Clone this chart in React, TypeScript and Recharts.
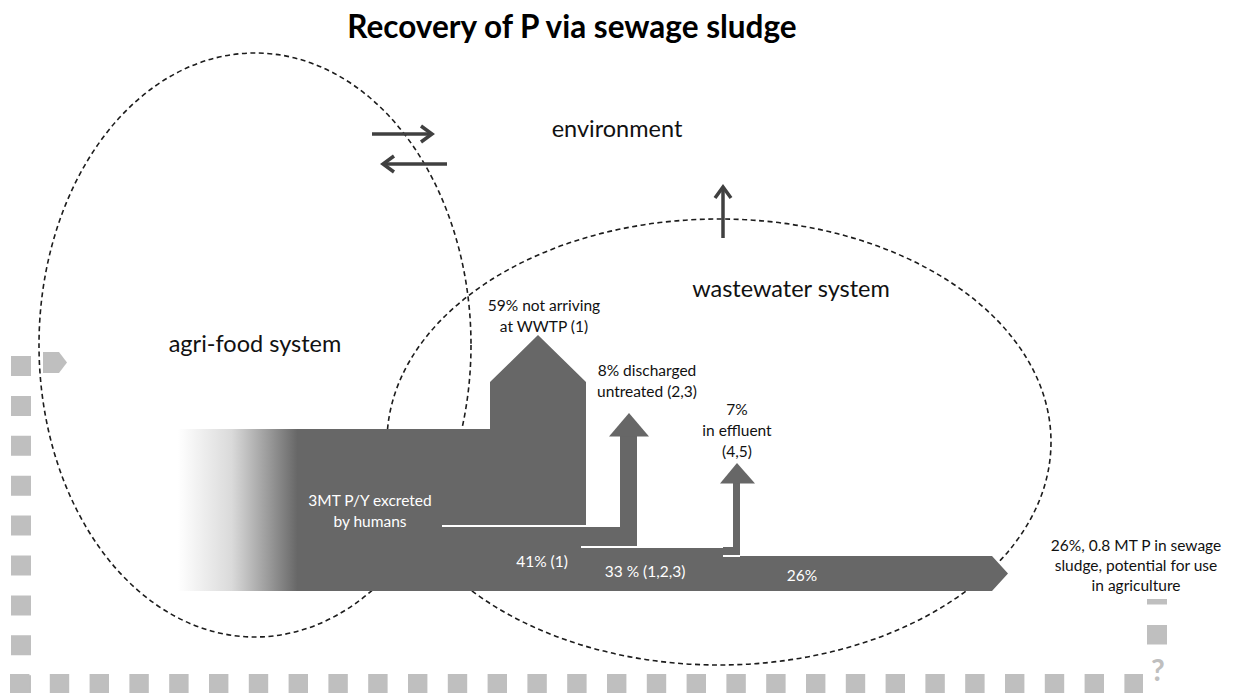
import React from "react";
import { ComposedChart, XAxis, YAxis, Area, Line, ReferenceLine, ReferenceDot } from "recharts";

// ---- labels and values ----
const chartTitle = "Recovery of P via sewage sludge";
const systemNames = ["agri-food system", "wastewater system", "environment"];
const sourceLabel = ["3MT P/Y excreted", "by humans"];
const outflowLabels = [
  ["59% not arriving", "at WWTP (1)"],
  ["8% discharged", "untreated (2,3)"],
  ["7%", "in effluent", "(4,5)"],
];
const bandLabels = ["41% (1)", "33 % (1,2,3)", "26%"];
const sinkLabel = ["26%, 0.8 MT P in sewage", "sludge, potential for use", "in agriculture"];

// ---- layout (page coordinates: x to the right, y downwards) ----
const W = 1234;
const H = 693;
const FONT = "Lato, 'Open Sans', sans-serif";
const GREY = "#676767";
const LIGHT = "#bfbfbf";
const INK = "#404040";

const systemPos = [
  { x: 255, y: 352 },
  { x: 791, y: 297 },
  { x: 617, y: 137 },
];
const outflowPos = [
  { x: 544, y: 311 },
  { x: 647, y: 376 },
  { x: 737, y: 415 },
];
const bandLabelPos = [
  { x: 542, y: 567 },
  { x: 645, y: 577 },
  { x: 802, y: 581 },
];

const ellipses = [
  { x: 255, y: 345, rx: 216, ry: 292 },
  { x: 719, y: 442, rx: 332, ry: 223 },
];

// the flow band: [bottom, top] at each x
const sourceFade = [
  { x: 178, v: [591, 429] },
  { x: 297.5, v: [591, 429] },
];
const bandBody = [
  { x: 297, v: [591, 429] },
  { x: 490, v: [591, 429] },
  { x: 490, v: [591, 382] },
  { x: 538, v: [591, 335] },
  { x: 586, v: [591, 382] },
  { x: 586, v: [591, 526] },
  { x: 637, v: [591, 526] },
  { x: 637, v: [591, 547] },
  { x: 740, v: [591, 547] },
  { x: 740, v: [591, 556] },
  { x: 992, v: [591, 556] },
  { x: 1008, v: [573.5, 573.5] },
];
const untreatedShaft = [
  { x: 620, v: [528, 436] },
  { x: 637, v: [528, 436] },
];
const untreatedHead = [
  { x: 609, v: [436.5, 436.5] },
  { x: 629, v: [436.5, 413] },
  { x: 649, v: [436.5, 436.5] },
];
const effluentShaft = [
  { x: 733, v: [549, 483] },
  { x: 740, v: [549, 483] },
];
const effluentHead = [
  { x: 720, v: [483.5, 483.5] },
  { x: 737, v: [483.5, 463] },
  { x: 755, v: [483.5, 483.5] },
];
const splitLines = [
  [{ x: 442, y: 526 }, { x: 620, y: 526 }],
  [{ x: 581, y: 547 }, { x: 723, y: 547 }],
  [{ x: 723, y: 556 }, { x: 740, y: 556 }],
];

// exchange arrows with the environment
const arrowLines = [
  [{ x: 372, y: 134 }, { x: 431, y: 134 }],
  [{ x: 421, y: 126 }, { x: 432, y: 134 }, { x: 421, y: 142 }],
  [{ x: 447, y: 164 }, { x: 384, y: 164 }],
  [{ x: 394, y: 156 }, { x: 383, y: 164 }, { x: 394, y: 172 }],
  [{ x: 723, y: 238 }, { x: 723, y: 188 }],
  [{ x: 715, y: 198 }, { x: 723, y: 187 }, { x: 731, y: 198 }],
];

const marker = [
  { x: 43, v: [352, 373] },
  { x: 59, v: [352, 373] },
  { x: 67, v: [362.5, 362.5] },
];

function Caption(props: any) {
  const { cx, cy, lines, size = 15, fill = "#111", weight = 400, gap = 21 } = props;
  return (
    <text x={cx} y={cy} textAnchor="middle" fontFamily={FONT} fontSize={size} fontWeight={weight} fill={fill}>
      {lines.map((l: string, i: number) => (
        <tspan key={i} x={cx} dy={i === 0 ? 0 : gap}>
          {l}
        </tspan>
      ))}
    </text>
  );
}

function caption(x: number, y: number, lines: string[], opts: any = {}, key?: string) {
  return (
    <ReferenceDot
      key={key}
      x={x}
      y={y}
      r={1}
      isFront
      shape={(p: any) => <Caption cx={p.cx} cy={p.cy} lines={lines} {...opts} />}
    />
  );
}

const poly = (data: any[], fill: string, key: string) => (
  <Area
    key={key}
    data={data}
    dataKey="v"
    type="linear"
    stroke="none"
    fill={fill}
    fillOpacity={1}
    dot={false}
    activeDot={false}
    isAnimationActive={false}
  />
);

const frameAxes = [
  <XAxis key="xa" type="number" dataKey="x" domain={[0, W]} hide allowDataOverflow />,
  <YAxis key="ya" type="number" domain={[0, H]} reversed hide allowDataOverflow />,
];

const layer: React.CSSProperties = { position: "absolute", left: 0, top: 0 };

export default function App() {
  return (
    <div style={{ position: "absolute", left: 0, top: 0, width: W, height: H, background: "#fff" }}>
      {/* back layer: system boundaries */}
      <div style={layer}>
        <ComposedChart width={W} height={H} margin={{ top: 0, right: 0, bottom: 0, left: 0 }}>
          {frameAxes}
          {ellipses.map((e, i) => (
            <ReferenceDot
              key={`ell-${i}`}
              x={e.x}
              y={e.y}
              r={1}
              shape={(p: any) => (
                <ellipse
                  cx={p.cx}
                  cy={p.cy}
                  rx={e.rx}
                  ry={e.ry}
                  fill="none"
                  stroke="#1c1c1c"
                  strokeWidth={1.6}
                  strokeDasharray="5 3.5"
                />
              )}
            />
          ))}
        </ComposedChart>
      </div>

      {/* front layer: flows, arrows and text */}
      <div style={layer}>
        <ComposedChart width={W} height={H} margin={{ top: 0, right: 0, bottom: 0, left: 0 }}>
          <defs>
            <linearGradient id="srcFade" x1="0" y1="0" x2="1" y2="0">
              <stop offset="0" stopColor="#ffffff" />
              <stop offset="0.45" stopColor="#dadada" />
              <stop offset="0.75" stopColor="#9c9c9c" />
              <stop offset="1" stopColor={GREY} />
            </linearGradient>
          </defs>
          {frameAxes}

          {/* dotted frame */}
          <ReferenceLine segment={[{ x: 21, y: 356 }, { x: 21, y: 693 }]} stroke={LIGHT} strokeWidth={20} strokeDasharray="20 19.9" />
          <ReferenceLine segment={[{ x: 10, y: 683.5 }, { x: 1143, y: 683.5 }]} stroke={LIGHT} strokeWidth={19} strokeDasharray="19.4 20.4" />
          <ReferenceLine segment={[{ x: 1157, y: 599 }, { x: 1157, y: 645 }]} stroke={LIGHT} strokeWidth={20} strokeDasharray="5.5 20.5 19.5 100" />
          {poly(marker, LIGHT, "marker")}

          {poly(sourceFade, "url(#srcFade)", "fade")}
          {poly(bandBody, GREY, "body")}
          {poly(untreatedShaft, GREY, "us")}
          {poly(untreatedHead, GREY, "uh")}
          {poly(effluentShaft, GREY, "es")}
          {poly(effluentHead, GREY, "eh")}

          {splitLines.map((seg, i) => (
            <ReferenceLine key={`split-${i}`} segment={seg as any} stroke="#ffffff" strokeWidth={2} />
          ))}

          {arrowLines.map((pts, i) => (
            <Line
              key={`arr-${i}`}
              data={pts}
              dataKey="y"
              type="linear"
              stroke={INK}
              strokeWidth={3.5}
              strokeLinejoin="miter"
              dot={false}
              activeDot={false}
              isAnimationActive={false}
            />
          ))}

          {caption(572, 38, [chartTitle], { size: 31.5, weight: 700, fill: "#000" }, "title")}
          {systemNames.map((s, i) => caption(systemPos[i].x, systemPos[i].y, [s], { size: 23.5 }, `sys-${i}`))}
          {outflowLabels.map((l, i) => caption(outflowPos[i].x, outflowPos[i].y, l, { size: 15.5 }, `out-${i}`))}
          {caption(370, 506, sourceLabel, { size: 15.5, fill: "#fff" }, "src")}
          {bandLabels.map((l, i) => caption(bandLabelPos[i].x, bandLabelPos[i].y, [l], { size: 15.5, fill: "#fff" }, `band-${i}`))}
          {caption(1136, 551, sinkLabel, { size: 15.5, gap: 20 }, "sink")}
          {caption(1158, 681, ["?"], { size: 30, weight: 700, fill: LIGHT }, "q")}
        </ComposedChart>
      </div>
    </div>
  );
}
